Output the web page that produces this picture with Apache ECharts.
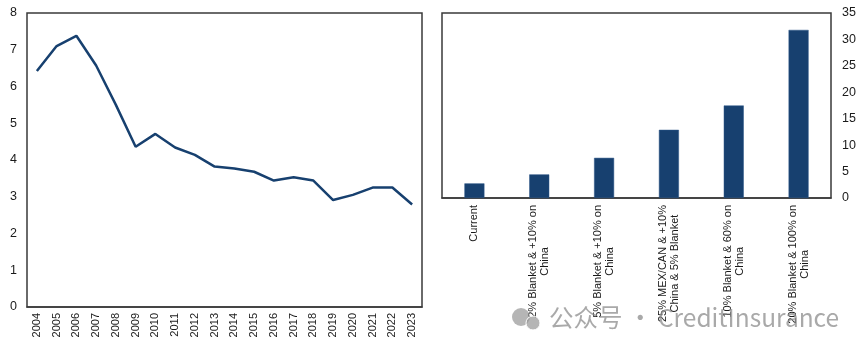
<!DOCTYPE html>
<html><head><meta charset="utf-8">
<script src="https://cdn.jsdelivr.net/npm/echarts@6/dist/echarts.min.js"></script>
<style>html,body{margin:0;padding:0;background:#fff}#c{width:865px;height:355px}</style>
</head><body><div id="c"></div>
<script>
const years = ['2004','2005','2006','2007','2008','2009','2010','2011','2012','2013','2014','2015','2016','2017','2018','2019','2020','2021','2022','2023'];
const lineValues = [6.42,7.10,7.38,6.57,5.50,4.36,4.71,4.34,4.14,3.82,3.77,3.68,3.44,3.53,3.44,2.91,3.05,3.25,3.25,2.79];
const scenarios = ['Current','2% Blanket & +10% on\nChina','5% Blanket & +10% on\nChina','25% MEX/CAN & +10%\nChina & 5% Blanket','10% Blanket & 60% on\nChina','20% Blanket & 100% on\nChina'];
const barValues = [2.76,4.46,7.6,12.9,17.5,31.8];
const leftTicks = {min:0,max:8,interval:1};
const rightTicks = {min:0,max:35,interval:5};
const watermark = '公众号 · CreditInsurance';

const font = 'Liberation Sans, Arial, sans-serif';
const navy = '#17406f';
const chart = echarts.init(document.getElementById('c'), null, {renderer:'canvas'});
chart.setOption({
  animation:false,
  backgroundColor:'#fff',
  grid:[
    {left:27,top:13,width:395,height:294,show:true,borderColor:'#3a3a3a',borderWidth:1.5,backgroundColor:'transparent'},
    {left:442,top:13,width:389,height:185,show:true,borderColor:'#3a3a3a',borderWidth:1.5,backgroundColor:'transparent'}
  ],
  xAxis:[
    {type:'category',gridIndex:0,data:years,boundaryGap:true,
     axisLine:{show:true,lineStyle:{color:'#3a3a3a',width:1.5}},axisTick:{show:false},
     axisLabel:{rotate:90,margin:6,interval:0,fontFamily:font,fontSize:11,color:'#1a1a1a'}},
    {type:'category',gridIndex:1,data:scenarios,boundaryGap:true,
     axisLine:{show:true,lineStyle:{color:'#3a3a3a',width:1.5}},axisTick:{show:false},
     axisLabel:{rotate:90,margin:7,interval:0,fontFamily:font,fontSize:11,color:'#1a1a1a',lineHeight:12,
       formatter:function(v){return v.split('\n').map(function(s){return '{a|'+s+'}';}).join('\n');},
       rich:{a:{align:'center',fontFamily:font,fontSize:11,color:'#1a1a1a',lineHeight:12}}}}
  ],
  yAxis:[
    {type:'value',gridIndex:0,min:leftTicks.min,max:leftTicks.max,interval:leftTicks.interval,
     axisLine:{show:false},axisTick:{show:false},splitLine:{show:false},
     axisLabel:{margin:10,fontFamily:font,fontSize:12.5,color:'#1a1a1a'}},
    {type:'value',gridIndex:1,position:'right',min:rightTicks.min,max:rightTicks.max,interval:rightTicks.interval,
     axisLine:{show:false},axisTick:{show:false},splitLine:{show:false},
     axisLabel:{margin:11,fontFamily:font,fontSize:12.5,color:'#1a1a1a'}}
  ],
  series:[
    {type:'line',xAxisIndex:0,yAxisIndex:0,data:lineValues,symbol:'none',
     lineStyle:{color:navy,width:2.5}},
    {type:'bar',xAxisIndex:1,yAxisIndex:1,data:barValues,barWidth:20,
     itemStyle:{color:navy,borderColor:'#2d5688',borderWidth:0.5}}
  ],
  graphic:[
    {type:'circle',shape:{cx:521,cy:317,r:9},style:{fill:'rgba(150,150,150,0.7)'},z:100},
    {type:'circle',shape:{cx:533,cy:323,r:7},style:{fill:'rgba(150,150,150,0.7)',stroke:'#fff',lineWidth:1},z:100},
    {type:'text',left:549,top:305,z:100,
     style:{text:watermark,fontFamily:'Noto Sans CJK SC, Noto Sans, sans-serif',fontSize:24.5,fill:'rgba(140,140,140,0.75)'}}
  ]
});
</script>
</body></html>
